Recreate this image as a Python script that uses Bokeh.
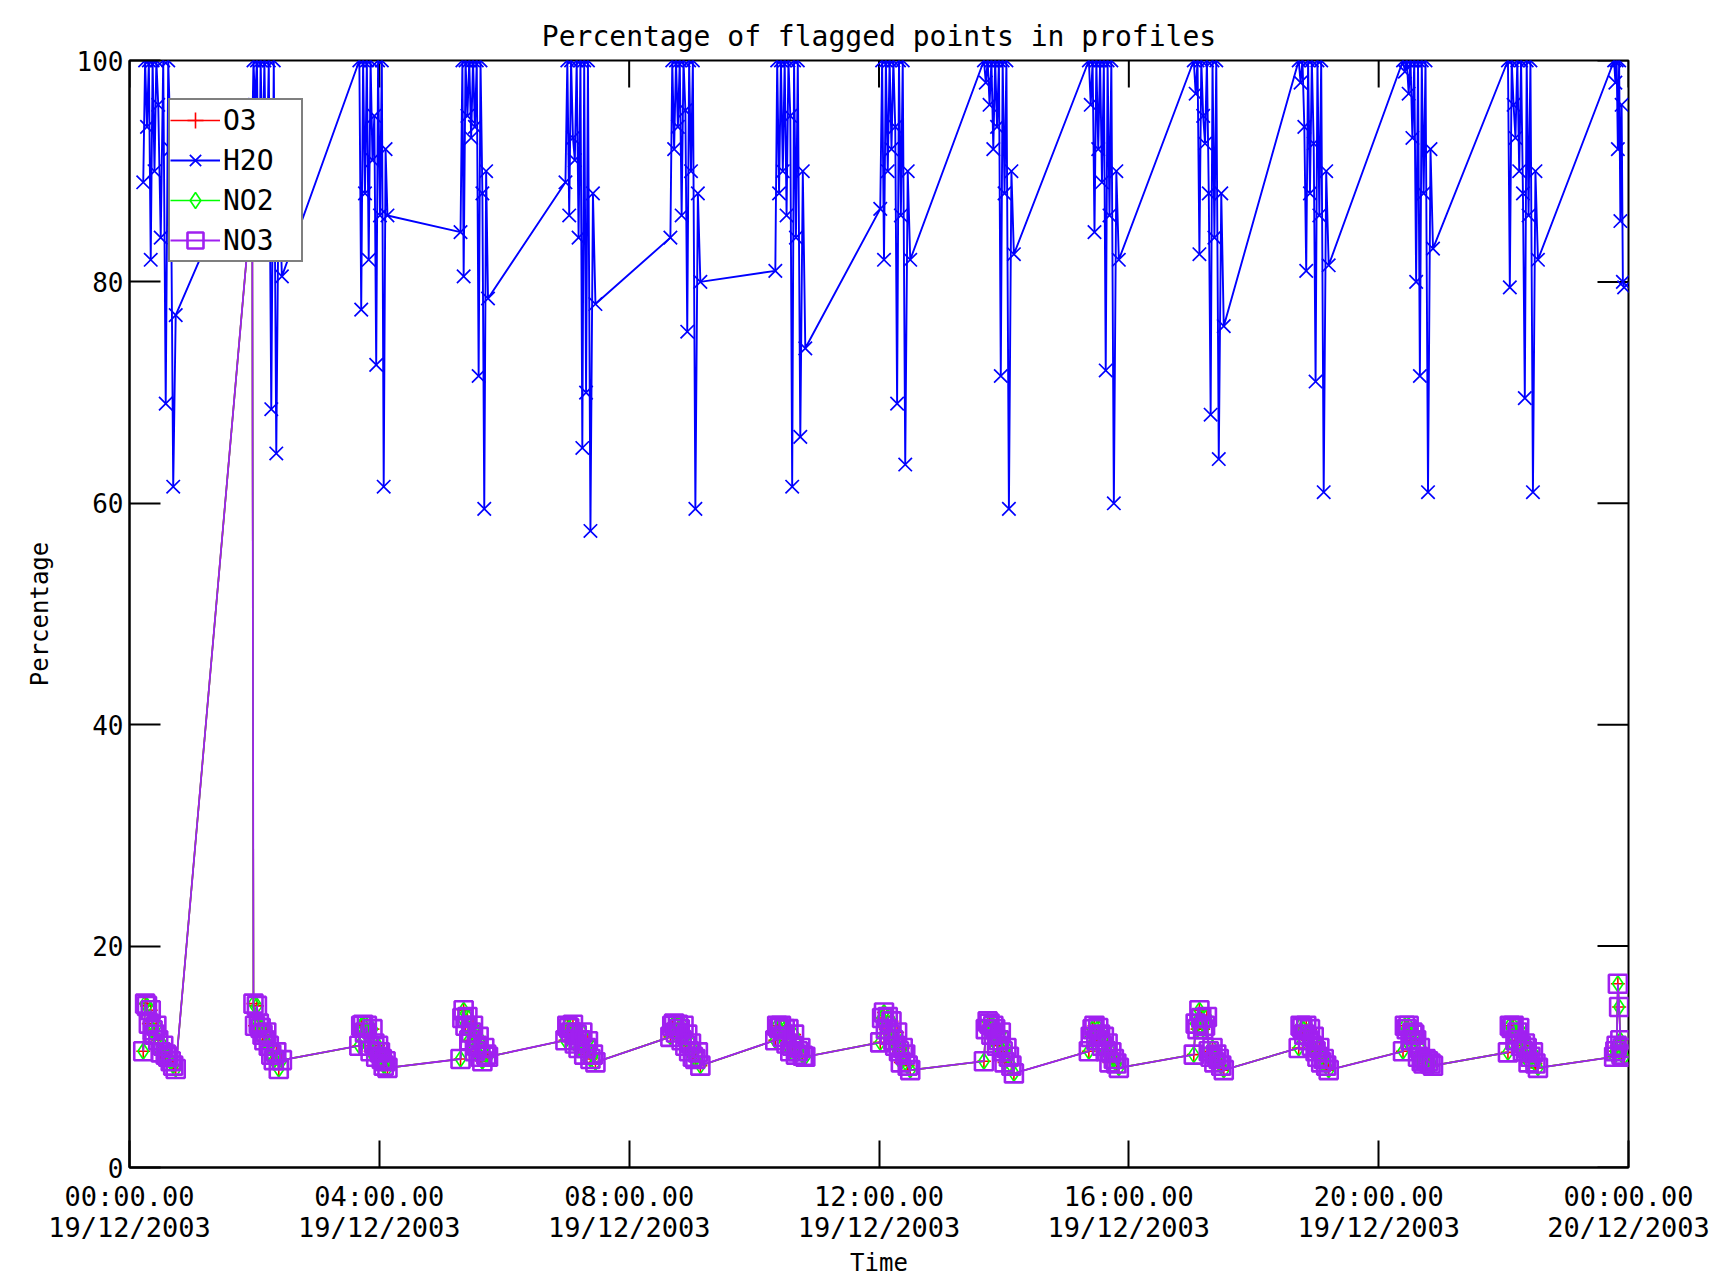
from math import pi
from bokeh.plotting import figure
from bokeh.models import Range1d, FixedTicker, Legend, LegendItem, ColumnDataSource
from bokeh.embed import file_html
from bokeh.resources import INLINE

TITLE = "Percentage of flagged points in profiles"
X_LABEL = "Time"
Y_LABEL = "Percentage"
SERIES_NAMES = ["O3", "H2O", "NO2", "NO3"]
X_TICKS = [0, 4, 8, 12, 16, 20, 24]
X_TICK_LABELS = ["00:00.00\n19/12/2003", "04:00.00\n19/12/2003", "08:00.00\n19/12/2003",
                 "12:00.00\n19/12/2003", "16:00.00\n19/12/2003", "20:00.00\n19/12/2003",
                 "00:00.00\n20/12/2003"]
Y_TICKS = [0, 20, 40, 60, 80, 100]

# time of each profile, decimal hours after 00:00 19/12/2003, one list per orbit
TIME_H = [
    [0.22, 0.25, 0.28, 0.31, 0.34, 0.37, 0.40, 0.43, 0.46, 0.50, 0.54, 0.58, 0.62, 0.66, 0.70, 0.74],
    [1.965, 1.985, 2.01, 2.04, 2.07, 2.10, 2.13, 2.16, 2.19, 2.23, 2.27, 2.31, 2.35, 2.39, 2.44],
    [3.68, 3.71, 3.74, 3.77, 3.80, 3.83, 3.86, 3.89, 3.92, 3.95, 3.98, 4.01, 4.04, 4.07, 4.10, 4.13],
    [5.30, 5.33, 5.35, 5.38, 5.41, 5.44, 5.47, 5.50, 5.53, 5.56, 5.59, 5.62, 5.65, 5.68, 5.71, 5.74],
    [6.98, 7.01, 7.04, 7.07, 7.10, 7.13, 7.16, 7.19, 7.22, 7.25, 7.28, 7.31, 7.34, 7.38, 7.42, 7.46],
    [8.66, 8.69, 8.72, 8.75, 8.78, 8.81, 8.84, 8.87, 8.90, 8.93, 8.96, 8.99, 9.02, 9.06, 9.10, 9.14],
    [10.34, 10.37, 10.40, 10.43, 10.46, 10.49, 10.52, 10.55, 10.58, 10.61, 10.64, 10.67, 10.70, 10.74, 10.78, 10.82],
    [12.02, 12.05, 12.08, 12.11, 12.14, 12.17, 12.20, 12.23, 12.26, 12.29, 12.32, 12.35, 12.38, 12.42, 12.46, 12.50],
    [13.68, 13.71, 13.74, 13.77, 13.80, 13.83, 13.86, 13.89, 13.92, 13.95, 13.98, 14.01, 14.04, 14.08, 14.12, 14.16],
    [15.36, 15.39, 15.42, 15.45, 15.48, 15.51, 15.54, 15.57, 15.60, 15.63, 15.66, 15.69, 15.72, 15.76, 15.80, 15.84],
    [17.04, 17.07, 17.10, 17.13, 17.16, 17.19, 17.22, 17.25, 17.28, 17.31, 17.34, 17.37, 17.40, 17.44, 17.48, 17.52],
    [18.72, 18.75, 18.78, 18.81, 18.84, 18.87, 18.90, 18.93, 18.96, 18.99, 19.02, 19.05, 19.08, 19.12, 19.16, 19.20],
    [20.39, 20.42, 20.45, 20.48, 20.51, 20.54, 20.57, 20.60, 20.63, 20.66, 20.69, 20.72, 20.75, 20.79, 20.83, 20.87],
    [22.07, 22.10, 22.13, 22.16, 22.19, 22.22, 22.25, 22.28, 22.31, 22.34, 22.37, 22.40, 22.43, 22.47, 22.51, 22.55],
    [23.77, 23.79, 23.81, 23.83, 23.85, 23.87, 23.89, 23.91, 23.93],
]

H2O = [
    [89, 100, 94, 100, 82, 100, 90, 100, 96, 84, 100, 69, 100, 92, 61.5, 77],
    [93, 100, 96, 100, 84, 100, 90, 100, 88, 100, 68.5, 100, 64.5, 90, 80.5],
    [100, 77.5, 100, 88, 100, 82, 100, 91, 95, 72.5, 100, 86, 100, 61.5, 92, 86],
    [84.5, 100, 80.5, 100, 95, 100, 93, 100, 94, 100, 71.5, 100, 88, 59.5, 90, 78.5],
    [89, 100, 86, 100, 93, 91, 100, 84, 100, 65, 100, 70, 100, 57.5, 88, 78],
    [84, 100, 92, 100, 94, 100, 86, 100, 95.5, 75.5, 100, 90, 100, 59.5, 88, 80],
    [81, 100, 88, 100, 90, 100, 86, 100, 95, 61.5, 100, 84, 100, 66, 90, 74],
    [86.6, 100, 82, 100, 90, 100, 92, 100, 94, 69, 100, 86, 100, 63.5, 90, 82],
    [100, 98, 100, 96, 100, 92, 100, 94, 100, 71.5, 100, 88, 100, 59.5, 90, 82.5],
    [100, 96, 100, 84.5, 100, 92, 100, 89, 100, 72, 100, 86, 100, 60, 90, 82],
    [100, 97, 100, 82.5, 100, 95, 92.5, 100, 88, 68, 100, 84, 100, 64, 88, 76],
    [100, 98, 100, 94, 81, 100, 88, 100, 92.5, 71, 100, 86, 100, 61, 90, 81.5],
    [100, 99, 100, 97, 100, 93, 100, 80, 100, 71.5, 100, 88, 100, 61, 92, 83],
    [100, 79.5, 100, 96, 93, 100, 90, 100, 88, 69.5, 100, 86, 100, 61, 90, 82],
    [100, 98, 100, 92, 100, 85.5, 96, 80, 79.5],
]

O3 = [
    [10.5, 14.8, 14.6, 13.0, 14.2, 12.4, 12.0, 12.8, 11.5, 10.4, 11.0, 10.2, 10.0, 9.6, 9.2, 8.9],
    [88, 14.8, 12.8, 14.6, 13.0, 12.6, 12.0, 11.5, 12.2, 11.0, 10.2, 9.7, 10.4, 8.9, 9.7],
    [11.0, 12.8, 12.9, 12.2, 12.8, 11.0, 10.5, 12.5, 11.2, 10.0, 11.0, 10.4, 9.8, 9.2, 9.6, 9.0],
    [9.8, 13.5, 14.2, 12.8, 13.6, 11.5, 12.2, 12.8, 10.5, 11.0, 11.8, 10.0, 9.6, 10.8, 10.2, 10.0],
    [11.5, 12.8, 12.6, 12.2, 12.9, 11.2, 12.0, 10.8, 11.5, 12.2, 10.2, 10.8, 11.4, 9.8, 10.2, 9.5],
    [11.8, 12.8, 13.0, 12.2, 12.9, 12.5, 11.5, 12.8, 11.0, 12.0, 10.5, 11.2, 10.0, 9.8, 10.4, 9.2],
    [11.5, 12.8, 12.6, 12.8, 11.8, 12.5, 11.2, 12.5, 10.5, 11.0, 12.0, 10.2, 10.5, 10.8, 10.1, 10.0],
    [11.3, 13.5, 14.0, 12.5, 13.6, 12.0, 13.2, 11.5, 11.0, 12.2, 10.5, 9.5, 10.8, 10.2, 9.2, 8.8],
    [9.6, 12.5, 13.2, 13.0, 12.0, 12.8, 12.5, 11.0, 11.5, 12.2, 10.5, 9.5, 10.8, 10.0, 9.2, 8.5],
    [10.5, 11.8, 12.5, 12.8, 11.5, 12.6, 12.0, 11.0, 11.8, 10.5, 11.2, 9.5, 10.4, 9.8, 9.4, 9.0],
    [10.2, 13.0, 12.5, 14.2, 13.5, 12.5, 12.8, 13.6, 10.5, 10.0, 10.8, 9.5, 10.2, 9.8, 9.2, 8.8],
    [10.8, 12.8, 12.6, 12.0, 12.8, 11.5, 12.5, 11.0, 11.8, 10.5, 10.0, 10.8, 9.5, 9.8, 9.2, 8.8],
    [10.5, 12.8, 12.5, 12.8, 11.5, 12.2, 12.0, 11.5, 10.0, 10.8, 9.6, 9.4, 9.8, 9.6, 9.4, 9.2],
    [10.4, 12.8, 12.6, 12.8, 11.5, 12.2, 12.6, 11.0, 10.5, 11.2, 10.8, 9.5, 10.0, 10.4, 9.4, 9.0],
    [10.0, 10.5, 11.0, 16.6, 14.5, 11.5, 10.2, 10.8, 10.0],
]
# NO2 and NO3 coincide with O3 point for point in the picture
NO2 = [list(row) for row in O3]
NO3 = [list(row) for row in O3]


def flat(rows):
    return [v for row in rows for v in row]


src = ColumnDataSource(dict(t=flat(TIME_H), o3=flat(O3), h2o=flat(H2O), no2=flat(NO2), no3=flat(NO3)))

FONT = "DejaVu Sans Mono"
X_TICK_LEN = 27
Y_TICK_LEN = 31

p = figure(width=1715, height=1280, output_backend="svg", toolbar_location=None,
           x_range=Range1d(0, 24), y_range=Range1d(0, 100),
           min_border_left=129, min_border_right=87, min_border_top=60, min_border_bottom=113)
p.background_fill_color = "white"
p.border_fill_color = "white"
p.outline_line_color = "black"
p.outline_line_width = 2
p.xgrid.visible = False
p.ygrid.visible = False

p.title.text = TITLE
p.title.align = "center"
p.title.text_font = FONT
p.title.text_font_size = "28px"
p.title.text_font_style = "normal"
p.title.text_color = "black"
p.title.standoff = 16


def style_axis(ax, tick_in):
    ax.axis_line_color = "black"
    ax.axis_line_width = 2
    ax.major_tick_line_color = "black"
    ax.major_tick_line_width = 2
    ax.major_tick_in = tick_in
    ax.major_tick_out = 0
    ax.minor_tick_in = 0
    ax.minor_tick_out = 0
    ax.major_label_text_font = FONT
    ax.major_label_text_color = "black"
    ax.axis_label_text_font = FONT
    ax.axis_label_text_font_style = "normal"
    ax.axis_label_text_color = "black"


xb = p.xaxis[0]
xb.ticker = FixedTicker(ticks=X_TICKS)
xb.major_label_overrides = {k: v for k, v in zip(X_TICKS, X_TICK_LABELS)}
style_axis(xb, X_TICK_LEN)
xb.major_label_text_font_size = "27px"
xb.major_label_text_line_height = 1.0
xb.major_label_standoff = 13
xb.axis_label = X_LABEL
xb.axis_label_text_font_size = "24px"
xb.axis_label_standoff = 3

yl = p.yaxis[0]
yl.ticker = FixedTicker(ticks=Y_TICKS)
style_axis(yl, Y_TICK_LEN)
yl.major_label_text_font_size = "26px"
yl.major_label_standoff = 6
yl.axis_label = Y_LABEL
yl.axis_label_text_font_size = "24px"
yl.axis_label_standoff = 20

# inward tick marks on the top and right edges (outer half clipped by the frame)
p.scatter(x=X_TICKS, y=[Y_TICKS[-1]] * len(X_TICKS), marker="dash", size=2 * X_TICK_LEN,
          angle=pi / 2, line_color="black", line_width=2)
p.scatter(x=[X_TICKS[-1]] * len(Y_TICKS), y=Y_TICKS, marker="dash", size=2 * Y_TICK_LEN,
          line_color="black", line_width=2)

RED, BLUE, GREEN, PURPLE = "#FF0000", "#0000FF", "#00FF00", "#A020F0"

o3_l = p.line("t", "o3", source=src, line_color=RED, line_width=1.6)
o3_m = p.scatter("t", "o3", source=src, marker="cross", size=14, line_color=RED, line_width=1.6)
h2o_l = p.line("t", "h2o", source=src, line_color=BLUE, line_width=1.9)
h2o_m = p.scatter("t", "h2o", source=src, marker="x", size=19, line_color=BLUE, line_width=1.7)
no2_l = p.line("t", "no2", source=src, line_color=GREEN, line_width=1.6)
no2_m = p.scatter("t", "no2", source=src, marker="diamond", size=16, line_color=GREEN,
                  fill_color=None, line_width=1.6)
no3_l = p.line("t", "no3", source=src, line_color=PURPLE, line_width=1.8)
no3_m = p.scatter("t", "no3", source=src, marker="square", size=18, line_color=PURPLE,
                  fill_color=None, line_width=2.6)

legend = Legend(items=[
    LegendItem(label=SERIES_NAMES[0], renderers=[o3_l, o3_m]),
    LegendItem(label=SERIES_NAMES[1], renderers=[h2o_l, h2o_m]),
    LegendItem(label=SERIES_NAMES[2], renderers=[no2_l, no2_m]),
    LegendItem(label=SERIES_NAMES[3], renderers=[no3_l, no3_m]),
], location=(39, 905))
legend.border_line_color = "black"
legend.border_line_width = 2
legend.background_fill_color = "white"
legend.background_fill_alpha = 1.0
legend.label_text_font = FONT
legend.label_text_font_size = "28px"
legend.label_text_color = "black"
legend.glyph_width = 50
legend.glyph_height = 40
legend.label_height = 40
legend.label_width = 78
legend.label_standoff = 3
legend.spacing = 0
legend.padding = 0
legend.margin = 0
p.add_layout(legend)

open("out.html", "w").write(file_html(p, INLINE))
